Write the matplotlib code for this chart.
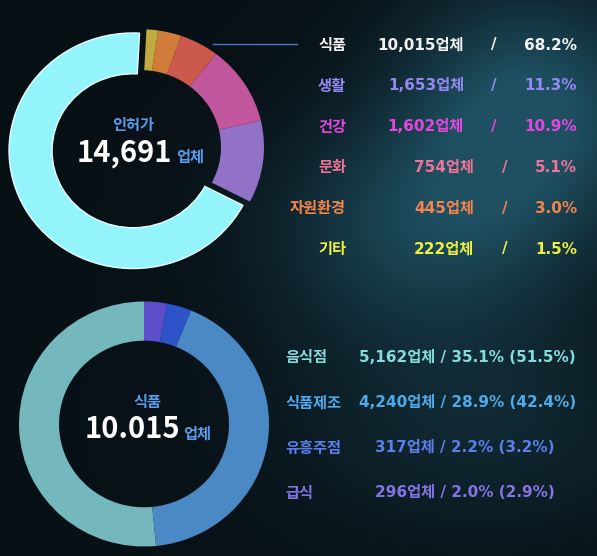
import numpy as np
import matplotlib
matplotlib.use("Agg")
import matplotlib.pyplot as plt

plt.rcParams['font.family'] = ['Noto Sans CJK KR', 'DejaVu Sans']
LEG_FONT = ['DejaVu Sans', 'Noto Sans CJK KR']

# top donut: 인허가 by category
top_names = ['식품', '생활', '건강', '문화', '자원환경', '기타']
top_counts = [10015, 1653, 1602, 754, 445, 222]
top_pcts = ['68.2%', '11.3%', '10.9%', '5.1%', '3.0%', '1.5%']
top_total = '14,691'

# bottom donut: 식품 breakdown
bot_names = ['음식점', '식품제조', '유흥주점', '급식']
bot_counts = [5162, 4240, 317, 296]
bot_pct_all = ['35.1%', '28.9%', '2.2%', '2.0%']
bot_pct_food = ['51.5%', '42.4%', '3.2%', '2.9%']
bot_total = '10.015'

top_wedge_colors = ['#93f4fc', '#9272c6', '#c2569c', '#cc5a4c', '#d27c3c', '#c2aa42']
top_text_colors = ['#f2f2f2', '#9488f2', '#e646e0', '#f07296', '#f3844e', '#eef03e']
bot_wedge_colors = ['#74b8bd', '#4a89c5', '#2d53c9', '#5d4fca']
bot_text_colors = ['#84dcdc', '#4eaaea', '#5b7eea', '#8474e6']

W, H = 597, 556
fig = plt.figure(figsize=(W / 100, H / 100), dpi=100)

# background
bg = fig.add_axes([0, 0, 1, 1])
yy, xx = np.mgrid[0:H, 0:W]
base = np.array([0.03, 0.065, 0.085])
glow = np.array([0.09, 0.25, 0.30])
g = (np.exp(-(((xx - 530) / 130.0) ** 2 + ((yy - 110) / 120.0) ** 2))
     + 0.7 * np.exp(-(((xx - 420) / 150.0) ** 2 + ((yy - 230) / 110.0) ** 2))
     + 0.35 * np.exp(-(((xx - 480) / 200.0) ** 2 + ((yy - 420) / 120.0) ** 2)))
g = np.clip(g, 0, 1)[..., None]
img = base + glow * g
bg.imshow(img, extent=[0, W, H, 0], aspect='auto')
bg.set_xlim(0, W)
bg.set_ylim(H, 0)
bg.axis('off')


def donut(cx, cy, R, width, counts, colors, explode, edge, squash, start):
    half = R + 14
    hy = half * squash
    ax = fig.add_axes([(cx - half) / W, 1 - (cy + hy) / H, 2 * half / W, 2 * hy / H])
    wedges, _ = ax.pie(counts, colors=colors, radius=R, startangle=start, counterclock=True,
                       explode=explode, wedgeprops=dict(width=width, linewidth=0))
    if edge:
        wedges[0].set_edgecolor('#e8ffff')
        wedges[0].set_linewidth(1.0)
    ax.set_xlim(-half, half)
    ax.set_ylim(-half, half)
    ax.set_aspect('auto')
    ax.axis('off')
    return ax


donut(140, 147, 124, 43, top_counts, top_wedge_colors, [8, 0, 0, 0, 0, 0], True, 0.95, 87)
donut(144, 424, 125, 40, bot_counts, bot_wedge_colors, None, False, 0.98, 90)

# leader line
bg.plot([213, 297], [44, 44], color='#4a78c0', lw=1)

# center labels
bg.text(133, 125, '인허가', color='#5a9ae8', fontsize=11, ha='center', va='center', weight='bold')
bg.text(172, 153, top_total, color='white', fontsize=21, ha='right', va='center', weight='bold')
bg.text(176, 157, '업체', color='#5a9ae8', fontsize=11, ha='left', va='center', weight='bold')

bg.text(147, 402, '식품', color='#5a9ae8', fontsize=11, ha='center', va='center', weight='bold')
bg.text(180, 429, bot_total, color='white', fontsize=21, ha='right', va='center', weight='bold')
bg.text(183, 434, '업체', color='#5a9ae8', fontsize=11, ha='left', va='center', weight='bold')

# top legend
for i, name in enumerate(top_names):
    y = 45 + i * 40.8
    c = top_text_colors[i]
    vx = 464 if top_counts[i] >= 1000 else 474
    sx = 494 if top_counts[i] >= 1000 else 505
    bg.text(346, y, name, color=c, fontsize=11, ha='right', va='center', weight='bold')
    bg.text(vx, y, f'{top_counts[i]:,}업체', color=c, fontsize=11, ha='right', va='center',
            weight='bold', family=LEG_FONT)
    bg.text(sx, y, '/', color=c, fontsize=11, ha='center', va='center', weight='bold',
            family=LEG_FONT)
    bg.text(577, y, top_pcts[i], color=c, fontsize=11, ha='right', va='center', weight='bold',
            family=LEG_FONT)

# bottom legend
for i, name in enumerate(bot_names):
    y = 357 + i * 45.3
    c = bot_text_colors[i]
    vx = 359 if bot_counts[i] >= 1000 else 375
    bg.text(285, y, name, color=c, fontsize=11, ha='left', va='center', weight='bold')
    bg.text(vx, y, f'{bot_counts[i]:,}업체 / {bot_pct_all[i]} ({bot_pct_food[i]})',
            color=c, fontsize=11, ha='left', va='center', weight='bold', family=LEG_FONT)

fig.savefig('out.png', dpi=100, facecolor='#08141b')
